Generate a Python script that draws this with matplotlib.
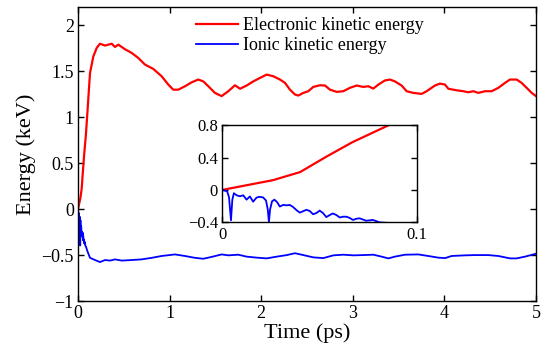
import matplotlib
matplotlib.use("Agg")
import matplotlib.pyplot as plt

# 读图得到的数据 (时间 ps, 能量 keV)
t_early_el = [0.0, 0.0125, 0.026, 0.04, 0.0535, 0.067, 0.0857]
e_early_el = [0.0, 0.058, 0.12, 0.22, 0.41, 0.59, 0.80]

t_main_el = [0.105, 0.131, 0.167, 0.204, 0.24, 0.295, 0.368, 0.404, 0.44, 0.513,
             0.586, 0.658, 0.731, 0.822, 0.913, 0.986, 1.04, 1.095, 1.168, 1.241,
             1.313, 1.368, 1.423, 1.495, 1.568, 1.641, 1.714, 1.769, 1.841, 1.914,
             1.987, 2.06, 2.132, 2.205, 2.26, 2.314, 2.369, 2.405, 2.46, 2.514,
             2.569, 2.642, 2.697, 2.751, 2.824, 2.896, 2.969, 3.042, 3.115, 3.17,
             3.224, 3.279, 3.35, 3.406, 3.46, 3.533, 3.588, 3.66, 3.752, 3.806,
             3.897, 3.952, 4.007, 4.043, 4.134, 4.207, 4.26, 4.316, 4.37, 4.443,
             4.516, 4.589, 4.662, 4.716, 4.789, 4.843, 4.898, 4.953, 5.0]
e_main_el = [1.084, 1.48, 1.66, 1.754, 1.80, 1.78, 1.80, 1.765, 1.79, 1.74,
             1.70, 1.645, 1.573, 1.526, 1.446, 1.355, 1.30, 1.30, 1.337, 1.38,
             1.41, 1.39, 1.337, 1.265, 1.23, 1.283, 1.348, 1.31, 1.345, 1.39,
             1.428, 1.464, 1.446, 1.41, 1.374, 1.30, 1.247, 1.236, 1.265, 1.283,
             1.33, 1.348, 1.345, 1.30, 1.276, 1.283, 1.32, 1.345, 1.33, 1.337,
             1.312, 1.355, 1.40, 1.41, 1.39, 1.345, 1.283, 1.265, 1.254, 1.283,
             1.345, 1.366, 1.355, 1.31, 1.293, 1.283, 1.272, 1.283, 1.265, 1.283,
             1.283, 1.32, 1.374, 1.41, 1.41, 1.374, 1.32, 1.265, 1.23]

t_early_ion = [0.0, 0.0025, 0.0035, 0.0045, 0.0052, 0.006, 0.0074, 0.0091, 0.0108,
               0.0125, 0.0142, 0.0159, 0.0176, 0.019, 0.021, 0.0225, 0.0234, 0.024,
               0.0246, 0.0256, 0.0268, 0.0282, 0.0296, 0.0313, 0.033, 0.0347,
               0.0364, 0.0382, 0.0399, 0.0416, 0.0433, 0.045, 0.0467, 0.0484,
               0.0501, 0.0518, 0.0535, 0.0552, 0.0569, 0.0587, 0.0604, 0.0621,
               0.0638, 0.0655, 0.0672, 0.069, 0.0706, 0.0723, 0.074, 0.0757,
               0.0774, 0.0792, 0.0809, 0.084, 0.0877]
e_early_ion = [0.0, -0.015, -0.09, -0.375, -0.12, -0.04, -0.066, -0.078, -0.066,
               -0.12, -0.08, -0.145, -0.095, -0.085, -0.092, -0.13, -0.24, -0.396,
               -0.24, -0.14, -0.12, -0.15, -0.205, -0.185, -0.19, -0.185,
               -0.21, -0.25, -0.28, -0.262, -0.245, -0.26, -0.30, -0.285,
               -0.255, -0.285, -0.335, -0.31, -0.29, -0.31, -0.34, -0.33,
               -0.33, -0.345, -0.37, -0.355, -0.35, -0.365, -0.38, -0.375,
               -0.37, -0.385, -0.40, -0.405, -0.41]

t_main_ion = [0.1, 0.131, 0.186, 0.24, 0.295, 0.35, 0.404, 0.477, 0.586, 0.695,
              0.804, 0.913, 1.059, 1.168, 1.277, 1.368, 1.459, 1.568, 1.641, 1.75,
              1.841, 1.951, 2.06, 2.17, 2.28, 2.369, 2.46, 2.569, 2.678, 2.788,
              2.896, 3.006, 3.115, 3.224, 3.315, 3.388, 3.46, 3.57, 3.715, 3.824,
              3.933, 4.007, 4.079, 4.225, 4.334, 4.479, 4.589, 4.716, 4.789, 4.88,
              4.971, 5.0]
e_main_ion = [-0.45, -0.53, -0.554, -0.576, -0.554, -0.56, -0.547, -0.56, -0.554, -0.547,
              -0.53, -0.51, -0.493, -0.51, -0.53, -0.54, -0.52, -0.493, -0.503, -0.496,
              -0.517, -0.528, -0.536, -0.517, -0.50, -0.48, -0.50, -0.525, -0.533, -0.503,
              -0.496, -0.503, -0.50, -0.496, -0.517, -0.536, -0.517, -0.496, -0.493, -0.51,
              -0.528, -0.533, -0.51, -0.503, -0.50, -0.50, -0.51, -0.536, -0.536, -0.517,
              -0.493, -0.485]

t_el = t_early_el + t_main_el
e_el = e_early_el + e_main_el
t_ion = t_early_ion + t_main_ion
e_ion = e_early_ion + e_main_ion

plt.rcParams['font.family'] = ['Liberation Serif', 'DejaVu Serif']
plt.rcParams['axes.linewidth'] = 1.0

fig = plt.figure(figsize=(5.42, 3.48), dpi=100)
ax = fig.add_axes([0.1439, 0.135, 0.845, 0.845])

ax.plot(t_el, e_el, color='#ff0000', lw=1.6, label='Electronic kinetic energy')
ax.plot(t_ion, e_ion, color='#0000ff', lw=1.3, label='Ionic kinetic energy')

ax.set_xlim(0, 5)
ax.set_ylim(-1, 2.2)
ax.set_yticks([-1, -0.5, 0, 0.5, 1, 1.5, 2])
ax.set_yticklabels(['\u22121', '\u22120.5', '0', '0.5', '1', '1.5', '2'])
ax.set_xticks([0, 1, 2, 3, 4, 5])
ax.tick_params(direction='in', top=True, right=True, labelsize=13, length=4, width=1.0, pad=3)
ax.set_xlabel('Time (ps)', fontsize=16, labelpad=1)
ax.set_ylabel('Energy (keV)', fontsize=16, labelpad=4)

ax.legend(loc='upper left', bbox_to_anchor=(0.258, 0.965), frameon=False, fontsize=13,
          borderpad=0, borderaxespad=0, handlelength=2.3, handletextpad=0.3,
          labelspacing=0.15)

# 插图：前 0.1 ps 放大
axin = fig.add_axes([0.410, 0.361, 0.359, 0.2796])
axin.plot(t_el, e_el, color='#ff0000', lw=1.6)
axin.plot(t_ion, e_ion, color='#0000ff', lw=1.3)
axin.set_xlim(0, 0.1)
axin.set_ylim(-0.4, 0.8)
axin.set_xticks([0, 0.1])
axin.set_xticklabels(['0', '0.1'])
axin.set_yticks([-0.4, 0, 0.4, 0.8])
axin.set_yticklabels(['\u22120.4', '0', '0.4', '0.8'])
axin.tick_params(direction='in', top=True, right=True, labelsize=12, length=4, width=1.0, pad=3)

fig.savefig('out.png', dpi=100, facecolor='white')
